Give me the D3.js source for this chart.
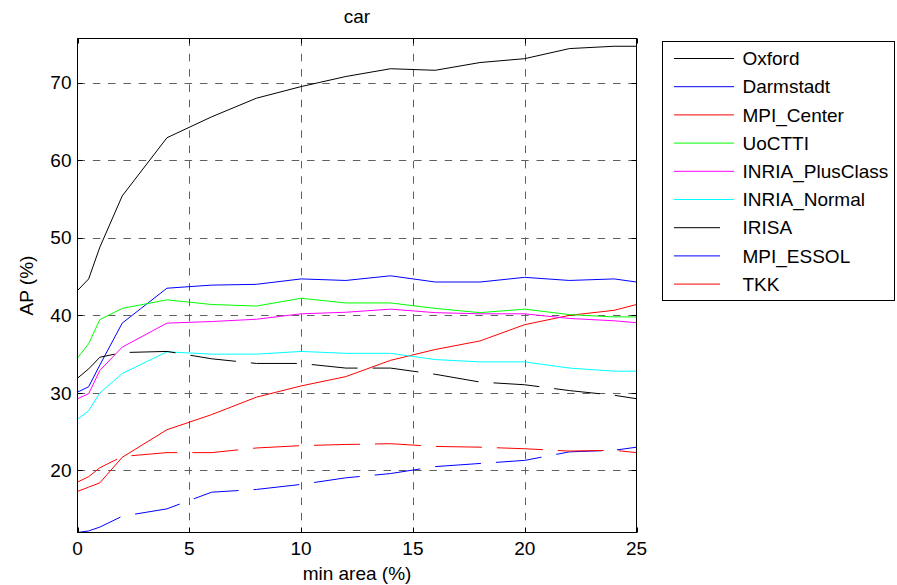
<!DOCTYPE html>
<html lang="en">
	<head>
		<meta charset="UTF-8" />
		<title>car</title>
		<script src="https://d3js.org/d3.v7.min.js"></script>
		<style>
			body {
				margin: 0;
				padding: 0;
				background: #fff;
			}
			text {
				font-family: Arial, "Liberation Sans", sans-serif;
				font-size: 19px;
				fill: #000;
			}
		</style>
	</head>
	<body>
		<svg width="897" height="585"></svg>
		<script>
			const minArea = [0, 0.5, 1, 2, 4, 6, 8, 10, 12, 14, 16, 18, 20, 22, 24, 25];

			const oxford = [43.2, 44.7, 48.8, 55.4, 62.9, 65.6, 68.0, 69.5, 70.8, 71.8, 71.6, 72.6, 73.1, 74.4, 74.7, 74.7];
			const darmstadt = [30.1, 30.8, 33.6, 39.0, 43.5, 43.9, 44.0, 44.7, 44.5, 45.1, 44.3, 44.3, 44.9, 44.5, 44.7, 44.3];
			const mpiCenter = [17.3, 17.85, 18.4, 21.7, 25.25, 27.2, 29.45, 30.9, 32.1, 34.2, 35.6, 36.7, 38.8, 40.0, 40.65, 41.4];
			const uocttI = [34.5, 36.35, 39.45, 40.9, 42.0, 41.4, 41.2, 42.2, 41.6, 41.6, 40.9, 40.35, 40.8, 40.1, 39.8, 39.8];
			const inriaPlusClass = [29.25, 29.9, 32.9, 35.9, 39.0, 39.2, 39.5, 40.2, 40.4, 40.8, 40.35, 40.2, 40.2, 39.6, 39.3, 39.05];
			const inriaNormal = [26.6, 27.7, 30.0, 32.5, 35.3, 35.0, 35.0, 35.35, 35.1, 35.1, 34.3, 34.0, 34.0, 33.2, 32.8, 32.8];
			const irisa = [31.9, 33.1, 34.6, 35.2, 35.35, 34.4, 33.8, 33.8, 33.2, 33.2, 32.4, 31.4, 31.05, 30.3, 29.7, 29.25];
			const mpiEssol = [12.0, 12.2, 12.7, 14.1, 15.05, 17.2, 17.55, 18.2, 19.05, 19.6, 20.5, 20.9, 21.3, 22.4, 22.6, 23.0];
			const tkk = [18.5, 19.2, 20.35, 21.8, 22.3, 22.3, 22.9, 23.2, 23.35, 23.45, 23.1, 23.0, 22.8, 22.5, 22.6, 22.3];

			const seriesNames = ["Oxford", "Darmstadt", "MPI_Center", "UoCTTI", "INRIA_PlusClass", "INRIA_Normal", "IRISA", "MPI_ESSOL", "TKK"];
			const seriesValues = [oxford, darmstadt, mpiCenter, uocttI, inriaPlusClass, inriaNormal, irisa, mpiEssol, tkk];
			const seriesColors = ["#000000", "#0000ff", "#ff0000", "#00ff00", "#ff00ff", "#00ffff", "#000000", "#0000ff", "#ff0000"];
			const seriesDashed = [false, false, false, false, false, false, true, true, true];

			const xTicks = [0, 5, 10, 15, 20, 25];
			const yTicks = [20, 30, 40, 50, 60, 70];

			const plot = { left: 77.5, right: 636.5, top: 38.5, bottom: 532.5 };
			const dashPattern = "46,15";

			const svg = d3.select("svg");

			const x = d3.scaleLinear().domain([0, 25]).range([plot.left, plot.right]);
			const y = d3.scaleLinear().domain([12, 75.7]).range([plot.bottom, plot.top]);

			svg
				.append("defs")
				.append("clipPath")
				.attr("id", "plotClip")
				.append("rect")
				.attr("x", plot.left)
				.attr("y", plot.top)
				.attr("width", plot.right - plot.left)
				.attr("height", plot.bottom - plot.top);

			// grid
			const grid = svg.append("g").attr("stroke", "#606060").attr("stroke-dasharray", "7.5,7.8");
			grid
				.selectAll(".vgrid")
				.data(xTicks.slice(1, -1))
				.enter()
				.append("line")
				.attr("x1", (d) => Math.round(x(d)) + 0.5)
				.attr("x2", (d) => Math.round(x(d)) + 0.5)
				.attr("y1", plot.top)
				.attr("y2", plot.bottom);
			grid
				.selectAll(".hgrid")
				.data(yTicks)
				.enter()
				.append("line")
				.attr("y1", (d) => Math.round(y(d)) + 0.5)
				.attr("y2", (d) => Math.round(y(d)) + 0.5)
				.attr("x1", plot.left)
				.attr("x2", plot.right);

			// data lines
			const line = d3
				.line()
				.x((d, i) => x(minArea[i]))
				.y((d) => y(d));

			svg
				.append("g")
				.attr("clip-path", "url(#plotClip)")
				.selectAll("path")
				.data(seriesValues)
				.enter()
				.append("path")
				.attr("d", line)
				.attr("fill", "none")
				.attr("stroke", (d, i) => seriesColors[i])
				.attr("stroke-width", 1)
				.attr("stroke-dasharray", (d, i) => (seriesDashed[i] ? dashPattern : null));

			// axes box
			svg
				.append("rect")
				.attr("x", plot.left)
				.attr("y", plot.top)
				.attr("width", plot.right - plot.left)
				.attr("height", plot.bottom - plot.top)
				.attr("fill", "none")
				.attr("stroke", "#000");

			// inward ticks on all four sides
			const ticks = svg.append("g").attr("stroke", "#000");
			xTicks.forEach((t) => {
				const px = Math.round(x(t)) + 0.5;
				ticks.append("line").attr("x1", px).attr("x2", px).attr("y1", plot.bottom).attr("y2", plot.bottom - 5);
				ticks.append("line").attr("x1", px).attr("x2", px).attr("y1", plot.top).attr("y2", plot.top + 5);
			});
			yTicks.forEach((t) => {
				const py = Math.round(y(t)) + 0.5;
				ticks.append("line").attr("y1", py).attr("y2", py).attr("x1", plot.left).attr("x2", plot.left + 5);
				ticks.append("line").attr("y1", py).attr("y2", py).attr("x1", plot.right).attr("x2", plot.right - 5);
			});

			svg
				.append("g")
				.selectAll("text")
				.data(xTicks)
				.enter()
				.append("text")
				.attr("x", (d) => x(d))
				.attr("y", plot.bottom + 22)
				.attr("text-anchor", "middle")
				.text((d) => d);

			svg
				.append("g")
				.selectAll("text")
				.data(yTicks)
				.enter()
				.append("text")
				.attr("x", plot.left - 6)
				.attr("y", (d) => y(d))
				.attr("dy", "0.35em")
				.attr("text-anchor", "end")
				.text((d) => d);

			// title and labels
			svg
				.append("text")
				.attr("x", (plot.left + plot.right) / 2)
				.attr("y", 23)
				.attr("text-anchor", "middle")
				.text("car");

			svg
				.append("text")
				.attr("x", (plot.left + plot.right) / 2)
				.attr("y", 580)
				.attr("text-anchor", "middle")
				.text("min area (%)");

			svg
				.append("text")
				.attr("transform", `translate(33,${(plot.top + plot.bottom) / 2}) rotate(-90)`)
				.attr("text-anchor", "middle")
				.text("AP (%)");

			// legend
			const legend = svg.append("g");
			legend
				.append("rect")
				.attr("x", 662.5)
				.attr("y", 41.5)
				.attr("width", 232)
				.attr("height", 259)
				.attr("fill", "#fff")
				.attr("stroke", "#000");

			const items = legend
				.selectAll(".item")
				.data(seriesNames)
				.enter()
				.append("g")
				.attr("transform", (d, i) => `translate(0,${58.5 + i * 28.2})`);

			items
				.append("line")
				.attr("x1", 674)
				.attr("x2", (d, i) => (seriesDashed[i] ? 720 : 734))
				.attr("y1", 0)
				.attr("y2", 0)
				.attr("stroke", (d, i) => seriesColors[i]);

			items
				.append("text")
				.attr("x", 742.5)
				.attr("y", 0)
				.attr("dy", "0.35em")
				.text((d) => d);
		</script>
	</body>
</html>
